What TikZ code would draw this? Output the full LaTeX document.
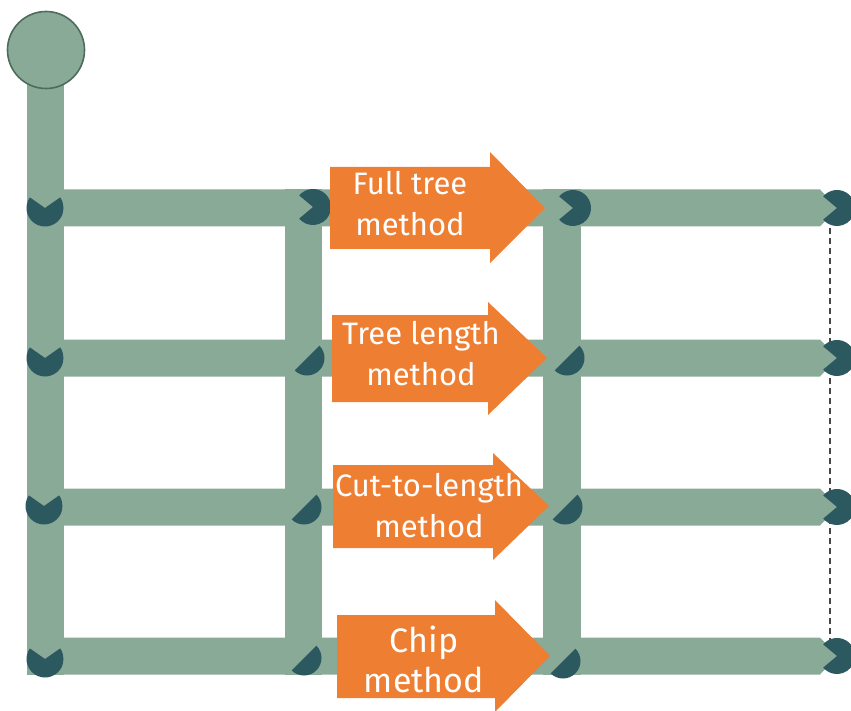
\documentclass[tikz,border=0pt]{standalone}
\usepackage{fontspec}
\setmainfont{Fira Sans}
\definecolor{barc}{RGB}{138,170,152}
\definecolor{circfill}{RGB}{138,170,152}
\definecolor{circline}{RGB}{78,108,94}
\definecolor{markc}{RGB}{44,88,96}
\definecolor{arrowc}{RGB}{237,126,50}
\definecolor{dashc}{RGB}{70,70,70}
\tikzset{
  barfill/.style={fill=barc},
  arrowfill/.style={fill=arrowc},
  lbl/.style={text=white, align=center, inner sep=0pt, font=\fontsize{31}{41}\selectfont},
  pacman/.pic={\fill[markc] (0,0) -- (140:18) arc[start angle=140, end angle=-140, radius=18] -- cycle;},
  vnotch/.pic={\fill[markc] (0,0) -- (145:18.5) arc[start angle=145, end angle=395, radius=18.5] -- cycle;},
  halfmoon/.pic={\fill[markc] (45:17.5) arc[start angle=45, end angle=-135, radius=17.5] -- cycle;}
}
\begin{document}
\begin{tikzpicture}[x=1pt,y=1pt]
\useasboundingbox (0,0) rectangle (851,-711);
% dashed line on the right
\coordinate (d1) at (830,-208);
\coordinate (d4) at (830,-656);
\draw[dashc, line width=2.6pt, dash pattern=on 6pt off 4pt] (d1) -- (d4);
% vertical bars
\fill[barfill] (27,-50) rectangle (64,-675);
\fill[barfill] (285,-189.5) rectangle (322,-675);
\fill[barfill] (543,-189.5) rectangle (581,-675);
% horizontal bars
\foreach \yy in {208,358,507,656}{
  \fill[barfill] (27,-\yy+18.5) -- (820,-\yy+18.5) -- (838,-\yy) -- (820,-\yy-18.5) -- (27,-\yy-18.5) -- cycle;
}
% top circle
\node[circle, fill=circfill, draw=circline, line width=1.6pt, minimum size=77pt, inner sep=0pt] (top) at (46,-50) {};
% markers
\pic at (45,-208) {vnotch};
\pic at (45,-358) {vnotch};
\pic at (44,-506) {vnotch};
\pic at (45,-659) {vnotch};
\pic at (313,-207) {pacman};
\pic at (573,-208) {pacman};
\foreach \yy in {208,358,507,656}{ \pic at (837,-\yy) {pacman}; }
\pic at (307,-358) {halfmoon};
\pic at (304,-507) {halfmoon};
\pic at (304,-658) {halfmoon};
\pic at (567,-358) {halfmoon};
\pic at (565,-507) {halfmoon};
\pic at (563,-661) {halfmoon};
% arrows
\fill[arrowfill] (330,-167) -- (490,-167) -- (490,-152) -- (545,-208) -- (490,-263) -- (490,-249) -- (330,-249) -- cycle;
\fill[arrowfill] (332,-315) -- (488,-315) -- (488,-302) -- (547,-358) -- (488,-415) -- (488,-402) -- (332,-402) -- cycle;
\fill[arrowfill] (333,-465) -- (493,-465) -- (493,-453) -- (549,-506) -- (493,-560) -- (493,-548) -- (333,-548) -- cycle;
\fill[arrowfill] (337,-615) -- (495,-615) -- (495,-600) -- (550,-656) -- (495,-712) -- (495,-698) -- (337,-698) -- cycle;
% labels
\node[lbl] (full) at (410,-204) {Full tree\\method};
\node[lbl] (treelen) at (421,-354) {Tree length\\method};
\node[lbl] (ctl) at (429,-506) {Cut-to-length\\method};
\node[lbl, font=\fontsize{34}{40}\selectfont] (chip) at (424,-659) {Chip\\method};
\end{tikzpicture}
\end{document}
